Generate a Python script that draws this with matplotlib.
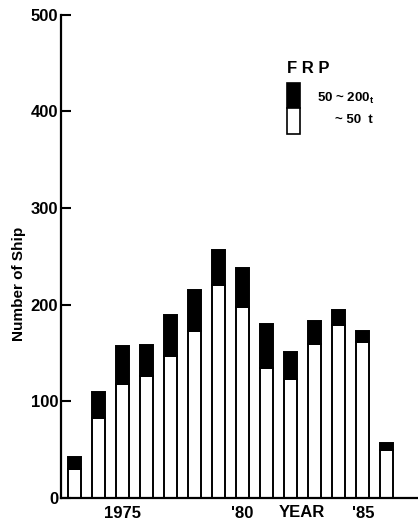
import matplotlib
matplotlib.use("Agg")
import matplotlib.pyplot as plt
from matplotlib.patches import Rectangle

# FRP ships built per year
years = [1973, 1974, 1975, 1976, 1977, 1978, 1979,
         1980, 1981, 1982, 1983, 1984, 1985, 1986]
small = [30, 83, 118, 126, 147, 173, 220,
         197, 134, 123, 159, 179, 161, 50]      # ~50 t
total = [42, 110, 157, 158, 189, 215, 256,
         238, 180, 151, 183, 194, 173, 57]      # all FRP
large = [t - s for t, s in zip(total, small)]  # 50 ~ 200 t

tick_years = [1975, 1980, 1985]
tick_labels = ["1975", "'80", "'85"]

plt.rcParams["font.family"] = ["Liberation Sans", "DejaVu Sans"]
plt.rcParams["font.weight"] = "bold"
plt.rcParams["axes.labelweight"] = "bold"

fig = plt.figure(figsize=(4.18, 5.23), dpi=100)
ax = fig.add_axes([0.146, 0.048, 0.854, 0.924])

ax.bar(years, small, width=0.54, color="white", edgecolor="black", linewidth=1.4)
ax.bar(years, large, bottom=small, width=0.54, color="black",
       edgecolor="black", linewidth=1.4)

ax.set_xlim(1972.46, 1987.29)
ax.set_ylim(0, 500)

for s in ["top", "right"]:
    ax.spines[s].set_visible(False)
ax.spines["left"].set_linewidth(1.6)
ax.spines["bottom"].set_linewidth(1.6)

ax.set_yticks([0, 100, 200, 300, 400, 500])
ax.tick_params(axis="y", direction="in", length=7, width=1.5, labelsize=12, pad=2)
ax.set_xticks(tick_years)
ax.set_xticklabels(tick_labels)
ax.tick_params(axis="x", length=0, labelsize=12, pad=6)

ax.set_ylabel("Number of Ship", fontsize=11)
ax.yaxis.set_label_coords(-0.097, 0.443)
ax.text(1982.46, -15, "YEAR", ha="center", va="center", fontsize=12,
        fontweight="bold")

# legend drawn by hand
ax.text(0.633, 0.889, "F R P", transform=ax.transAxes, fontsize=12,
        va="center", ha="left")
ax.add_patch(Rectangle((0.633, 0.807), 0.036, 0.051, transform=ax.transAxes,
                       facecolor="black", edgecolor="black", lw=1.2))
ax.add_patch(Rectangle((0.633, 0.753), 0.036, 0.054, transform=ax.transAxes,
                       facecolor="white", edgecolor="black", lw=1.2))
ax.text(0.717, 0.827, r"50 ~ 200$\mathregular{_t}$", transform=ax.transAxes,
        fontsize=9.5, va="center", ha="left")
ax.text(0.767, 0.782, "~ 50  t", transform=ax.transAxes,
        fontsize=9.5, va="center", ha="left")

fig.savefig("out.png", dpi=100)
